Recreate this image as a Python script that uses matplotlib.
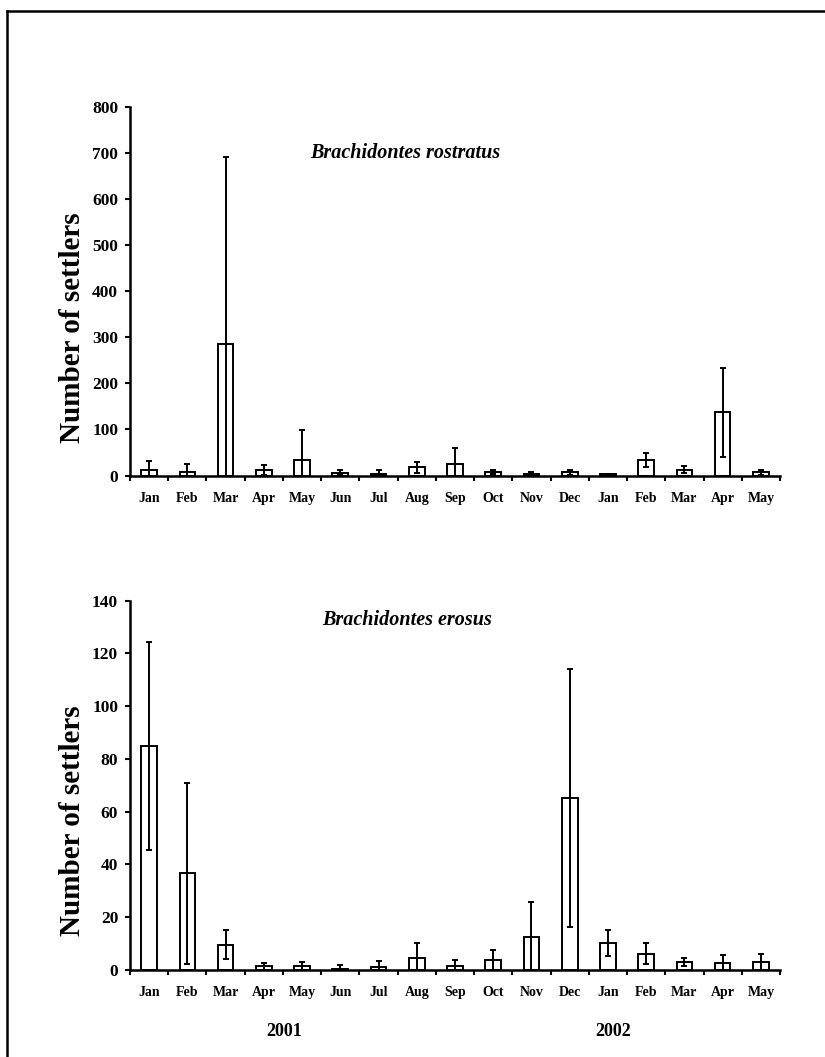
import matplotlib
matplotlib.use("Agg")
import matplotlib.pyplot as plt
from matplotlib.lines import Line2D
import numpy as np

months = ["Jan", "Feb", "Mar", "Apr", "May", "Jun", "Jul", "Aug", "Sep",
          "Oct", "Nov", "Dec", "Jan", "Feb", "Mar", "Apr", "May"]
years = ["2001", "2002"]

# B. rostratus: mean settlers and error
rostratus_mean = [12, 8, 285, 12, 34, 6, 4, 18, 25, 7, 4, 7, 3, 34, 13, 137, 7]
rostratus_err = [20, 16, 405, 11, 64, 5, 8, 12, 35, 4, 3, 5, 1, 15, 8, 96, 5]

# B. erosus: mean settlers and error
erosus_mean = [85, 36.5, 9.5, 1.2, 1.5, 0.3, 0.8, 4.5, 1.5, 3.5, 12.5, 65, 10, 6, 3, 2.5, 3]
erosus_err = [39.5, 34.5, 5.5, 1.3, 1.5, 1.5, 2.5, 5.5, 2, 4, 13, 49, 5, 4, 1.5, 3, 3]

plt.rcParams['font.family'] = ['Liberation Serif', 'DejaVu Serif']
plt.rcParams['font.weight'] = 'bold'

W, H = 825, 1057
fig = plt.figure(figsize=(W / 100, H / 100), dpi=100)


def draw(ax, mean, err, ymax, step, title, tx, ty):
    x = np.arange(len(months))
    ax.bar(x, mean, width=0.41, color='white', edgecolor='black', linewidth=1.4, zorder=2)
    ax.errorbar(x, mean, yerr=err, fmt='none', ecolor='black', elinewidth=1.4,
                capsize=2.5, capthick=1.4, zorder=3)
    ax.set_xlim(-0.5, len(months) - 0.5)
    ax.set_ylim(0, ymax)
    ax.set_yticks(np.arange(0, ymax + 1, step))
    ax.set_xticks(x)
    ax.set_xticklabels(months, fontsize=10, fontweight='bold')
    ax.set_xticks(np.arange(-0.5, len(months)), minor=True)
    ax.tick_params(axis='x', which='major', length=0, pad=12)
    ax.tick_params(axis='x', which='minor', length=3.5, width=1.5, direction='out')
    ax.tick_params(axis='y', length=3.5, width=1.5, direction='out', labelsize=12.5, pad=5)
    for lab in ax.get_yticklabels():
        lab.set_fontweight('bold')
    for s in ['top', 'right']:
        ax.spines[s].set_visible(False)
    for s in ['left', 'bottom']:
        ax.spines[s].set_linewidth(1.8)
    fig.text(tx / W, 1 - ty / H, title, fontsize=14.5, fontweight='bold',
             style='italic', ha='center', va='center')


ax1 = fig.add_axes([130 / W, 1 - 475.5 / H, 650 / W, 368.8 / H])
draw(ax1, rostratus_mean, rostratus_err, 800, 100, "Brachidontes rostratus", 405, 153)

ax2 = fig.add_axes([130 / W, 1 - 969.6 / H, 650 / W, 368.9 / H])
draw(ax2, erosus_mean, erosus_err, 140, 20, "Brachidontes erosus", 407, 620)

fig.text(72 / W, 1 - 328 / H, "Number of settlers", rotation=90, fontsize=21,
         fontweight='bold', ha='center', va='center')
fig.text(72 / W, 1 - 821 / H, "Number of settlers", rotation=90, fontsize=21,
         fontweight='bold', ha='center', va='center')

fig.text(284 / W, 1 - 1031 / H, years[0], fontsize=13, fontweight='bold', ha='center', va='center')
fig.text(613 / W, 1 - 1031 / H, years[1], fontsize=13, fontweight='bold', ha='center', va='center')

# outer frame (left and top edges only)
fig.add_artist(Line2D([7 / W, 7 / W], [0, 1 - 11 / H], transform=fig.transFigure,
                      color='black', lw=1.8))
fig.add_artist(Line2D([7 / W, 1], [1 - 11 / H, 1 - 11 / H], transform=fig.transFigure,
                      color='black', lw=1.8))

fig.savefig("out.png", dpi=100)
